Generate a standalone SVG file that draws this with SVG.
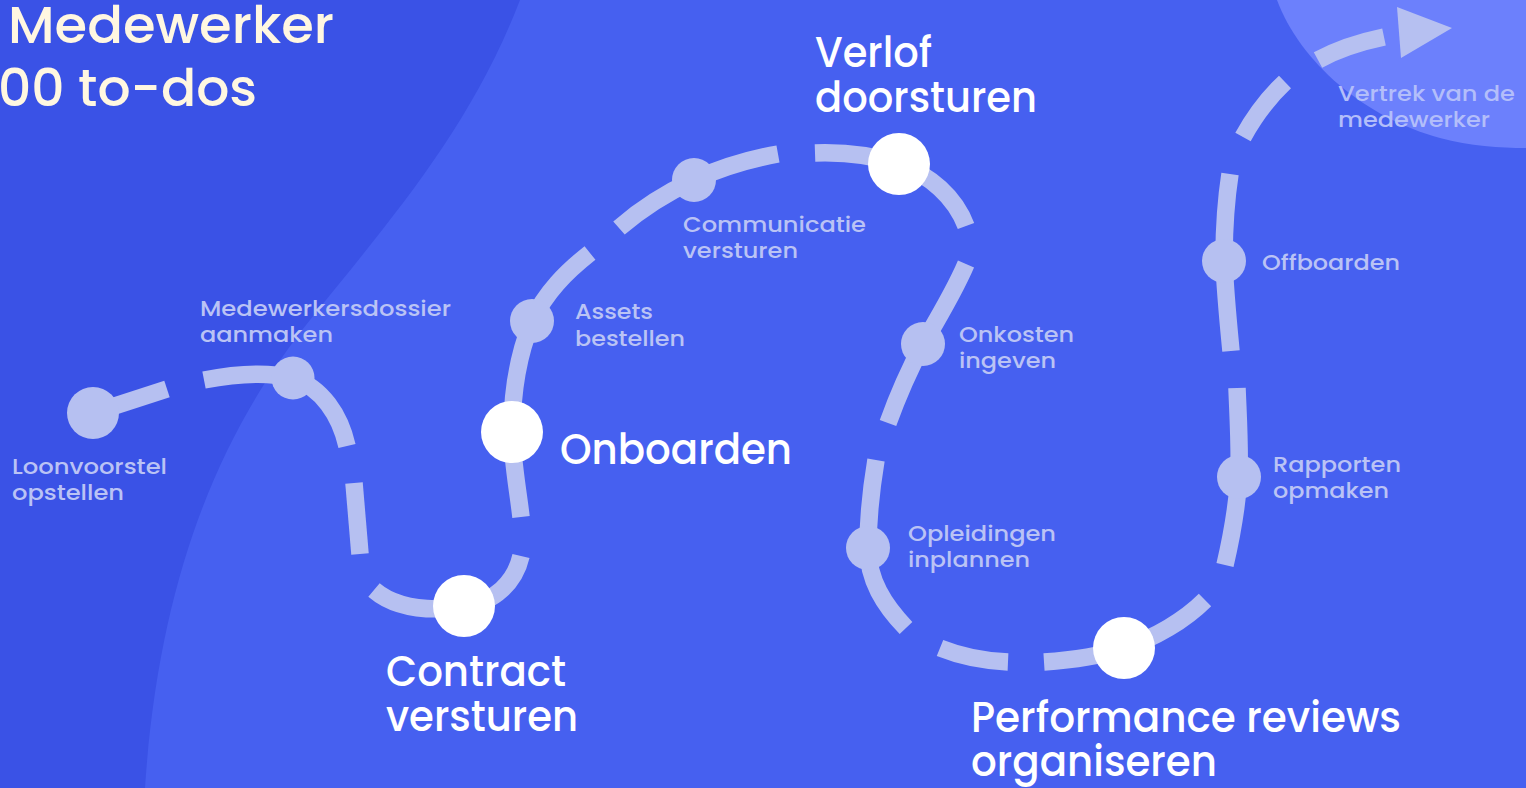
<svg xmlns="http://www.w3.org/2000/svg" width="1526" height="788" viewBox="0 0 1526 788">
<style>
.big{font-family:Poppins,Inter,"Noto Sans",sans-serif;font-weight:500;fill:#FFFFFF;font-size:42px}
.title{font-family:Poppins,Inter,"Noto Sans",sans-serif;font-weight:500;fill:#FFF7E1;font-size:52px}
.sm{font-family:Poppins,Inter,"Noto Sans",sans-serif;font-weight:500;fill:#BAC3F5;font-size:22px}
.sm2{font-family:Poppins,Inter,"Noto Sans",sans-serif;font-weight:500;fill:#B3BEFA;font-size:22px}
.dash{fill:none;stroke:#B6C0F1;stroke-width:17.5;stroke-linecap:butt}
.lc{fill:#B6C0F1}
.wc{fill:#FFFFFF}
</style>
<rect x="0" y="0" width="1526" height="788" fill="#3A52E6"/>
<path d="M520,0 C470,130 390,220 310,320 C230,420 160,560 145,788 L1526,788 L1526,0 Z" fill="#4660F0"/>
<path d="M1277,0 C1300,62 1365,118 1440,138 C1470,146 1500,148 1526,148 L1526,0 Z" fill="#6C80FC"/>

<g id="title">
<text class="title" x="8" y="43" textLength="326" lengthAdjust="spacingAndGlyphs">Medewerker</text>
<text class="title" x="-2" y="106" textLength="259" lengthAdjust="spacingAndGlyphs">00 to-dos</text>
</g>

<g id="connectors">
<path class="dash" d="M93,413 L167,389"/>
<path class="dash" d="M204,380 C235,374 268,372 293,378 C322,388 340,415 347,446"/>
<path class="dash" d="M354,483 L360,554"/>
<path class="dash" d="M374,590 C395,608 425,612 464,607 C495,602 515,582 521,556"/>
<path class="dash" d="M521,517 C518,490 512,460 512,432 C512,395 518,355 532,321 C546,292 566,272 590,253"/>
<path class="dash" d="M619,228 C642,208 668,192 694,180 C720,168 750,159 778,154"/>
<path class="dash" d="M815,153 C845,152 875,156 899,164 C930,175 955,197 966,226"/>
<path class="dash" d="M966,264 C955,290 940,315 923,344 C908,372 897,398 888,423"/>
<path class="dash" d="M876,460 C871,490 868,520 868,548 C868,580 884,605 906,628"/>
<path class="dash" d="M940,648 C960,656 985,661 1008,662"/>
<path class="dash" d="M1044,662 C1075,660 1100,656 1124,648 C1155,638 1185,620 1205,600"/>
<path class="dash" d="M1225,565 C1232,535 1237,505 1239,477 C1240,445 1238,415 1237,388"/>
<path class="dash" d="M1231,351 C1228,320 1225,290 1224,261 C1224,230 1226,200 1230,174"/>
<path class="dash" d="M1243,137 C1255,115 1268,98 1285,82"/>
<path class="dash" d="M1318,60 C1340,48 1360,42 1384,37"/>
<polygon class="lc" points="1397,7 1452,28 1401,58"/>
</g>

<g id="loonvoorstel">
<circle class="lc" cx="93" cy="413" r="26"/>
<text class="sm" x="12" y="474" textLength="155" lengthAdjust="spacingAndGlyphs">Loonvoorstel</text>
<text class="sm" x="12" y="500" textLength="112" lengthAdjust="spacingAndGlyphs">opstellen</text>
</g>
<g id="medewerkersdossier">
<circle class="lc" cx="293" cy="378" r="21.5"/>
<text class="sm" x="200" y="316" textLength="251" lengthAdjust="spacingAndGlyphs">Medewerkersdossier</text>
<text class="sm" x="200" y="342" textLength="133" lengthAdjust="spacingAndGlyphs">aanmaken</text>
</g>
<g id="contract">
<circle class="wc" cx="464" cy="606" r="31"/>
<text class="big" x="386" y="686" textLength="180" lengthAdjust="spacingAndGlyphs">Contract</text>
<text class="big" x="386" y="731" textLength="192" lengthAdjust="spacingAndGlyphs">versturen</text>
</g>
<g id="onboarden">
<circle class="wc" cx="512" cy="432" r="31"/>
<text class="big" x="560" y="464" textLength="232" lengthAdjust="spacingAndGlyphs">Onboarden</text>
</g>
<g id="assets">
<circle class="lc" cx="532" cy="321" r="22"/>
<text class="sm" x="575" y="319" textLength="78" lengthAdjust="spacingAndGlyphs">Assets</text>
<text class="sm" x="575" y="346" textLength="110" lengthAdjust="spacingAndGlyphs">bestellen</text>
</g>
<g id="communicatie">
<circle class="lc" cx="694" cy="180" r="22"/>
<text class="sm" x="683" y="232" textLength="183" lengthAdjust="spacingAndGlyphs">Communicatie</text>
<text class="sm" x="683" y="258" textLength="115" lengthAdjust="spacingAndGlyphs">versturen</text>
</g>
<g id="verlof">
<circle class="wc" cx="899" cy="164" r="31"/>
<text class="big" x="815" y="67" textLength="117" lengthAdjust="spacingAndGlyphs">Verlof</text>
<text class="big" x="815" y="112" textLength="222" lengthAdjust="spacingAndGlyphs">doorsturen</text>
</g>
<g id="onkosten">
<circle class="lc" cx="923" cy="344" r="22"/>
<text class="sm" x="959" y="342" textLength="115" lengthAdjust="spacingAndGlyphs">Onkosten</text>
<text class="sm" x="959" y="368" textLength="97" lengthAdjust="spacingAndGlyphs">ingeven</text>
</g>
<g id="opleidingen">
<circle class="lc" cx="868" cy="548" r="22"/>
<text class="sm" x="908" y="541" textLength="148" lengthAdjust="spacingAndGlyphs">Opleidingen</text>
<text class="sm" x="908" y="567" textLength="122" lengthAdjust="spacingAndGlyphs">inplannen</text>
</g>
<g id="performance">
<circle class="wc" cx="1124" cy="648" r="31"/>
<text class="big" x="971" y="732" textLength="430" lengthAdjust="spacingAndGlyphs">Performance reviews</text>
<text class="big" x="971" y="776" textLength="246" lengthAdjust="spacingAndGlyphs">organiseren</text>
</g>
<g id="rapporten">
<circle class="lc" cx="1239" cy="477" r="22"/>
<text class="sm" x="1273" y="472" textLength="128" lengthAdjust="spacingAndGlyphs">Rapporten</text>
<text class="sm" x="1273" y="498" textLength="116" lengthAdjust="spacingAndGlyphs">opmaken</text>
</g>
<g id="offboarden">
<circle class="lc" cx="1224" cy="261" r="22"/>
<text class="sm" x="1262" y="270" textLength="138" lengthAdjust="spacingAndGlyphs">Offboarden</text>
</g>
<g id="vertrek">
<text class="sm2" x="1338" y="101" textLength="177" lengthAdjust="spacingAndGlyphs">Vertrek van de</text>
<text class="sm2" x="1338" y="127" textLength="152" lengthAdjust="spacingAndGlyphs">medewerker</text>
</g>
</svg>
